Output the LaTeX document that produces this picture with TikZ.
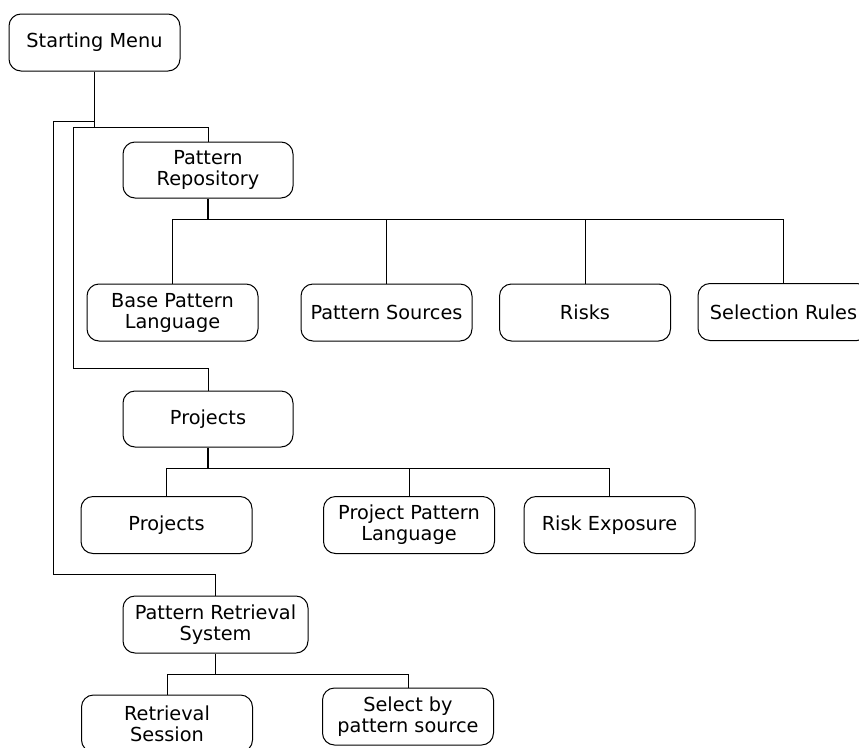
\documentclass[tikz,border=0pt]{standalone}
\usepackage{fontspec}
\setmainfont{DejaVu Sans}
\begin{document}
\begin{tikzpicture}[x=1pt,y=-1pt,
  menubox/.style={draw=black,line width=1pt,rounded corners=12pt,
    minimum width=171pt,minimum height=57pt,inner sep=0pt,align=center,
    font=\fontsize{19.3}{21}\selectfont},
  stem/.style={line width=1.6pt},
  wire/.style={line width=1pt}]
\useasboundingbox (0,0) rectangle (859,747);

% top level
\node[menubox] (sm) at (94.5,42.5) {Starting Menu};
\node[menubox,minimum width=170pt,minimum height=56pt] (pr) at (208,170) {Pattern\\Repository};
\node[menubox,minimum width=170pt,minimum height=56pt] (proj) at (208,419) {Projects};
\node[menubox,minimum width=185pt] (prs) at (215.5,624.5) {Pattern Retrieval\\System};

% repository contents
\node[menubox] (bpl) at (172.5,312.5) {Base Pattern\\Language};
\node[menubox] (ps) at (386.5,312.5) {Pattern Sources};
\node[menubox] (risks) at (585,312.5) {Risks};
\node[menubox] (sr) at (783.5,312) {Selection Rules};

% project contents
\node[menubox] (projc) at (166.5,525) {Projects};
\node[menubox] (ppl) at (409,525) {Project Pattern\\Language};
\node[menubox] (re) at (609.5,525) {Risk Exposure};

% retrieval contents
\node[menubox] (rs) at (167,723.5) {Retrieval\\Session};
\node[menubox] (sbp) at (408,716.5) {Select by\\pattern source};

% rails from the starting menu
\coordinate (railA) at (73,127);
\coordinate (railB) at (53,121);
\draw[stem] (sm.south) -- (sm.south |- railA);
\draw[wire] (sm.south |- railA) -| (pr.north);
\draw[wire] (sm.south |- railA) -- (railA) -- (73,368) -| (proj.north);
\draw[wire] (sm.south |- railB) -- (railB) -- (53,574) -| (prs.north);

% repository branches
\draw[stem] (pr.south) -- ++(0,21) coordinate (busR);
\foreach \c in {bpl,ps,risks,sr} \draw[wire] (busR) -| (\c.north);

% project branches
\draw[stem] (proj.south) -- ++(0,21) coordinate (busP);
\foreach \c in {projc,ppl,re} \draw[wire] (busP) -| (\c.north);

% retrieval branches
\draw[stem] (prs.south) -- ++(0,21) coordinate (busS);
\foreach \c in {rs,sbp} \draw[wire] (busS) -| (\c.north);
\end{tikzpicture}
\end{document}
